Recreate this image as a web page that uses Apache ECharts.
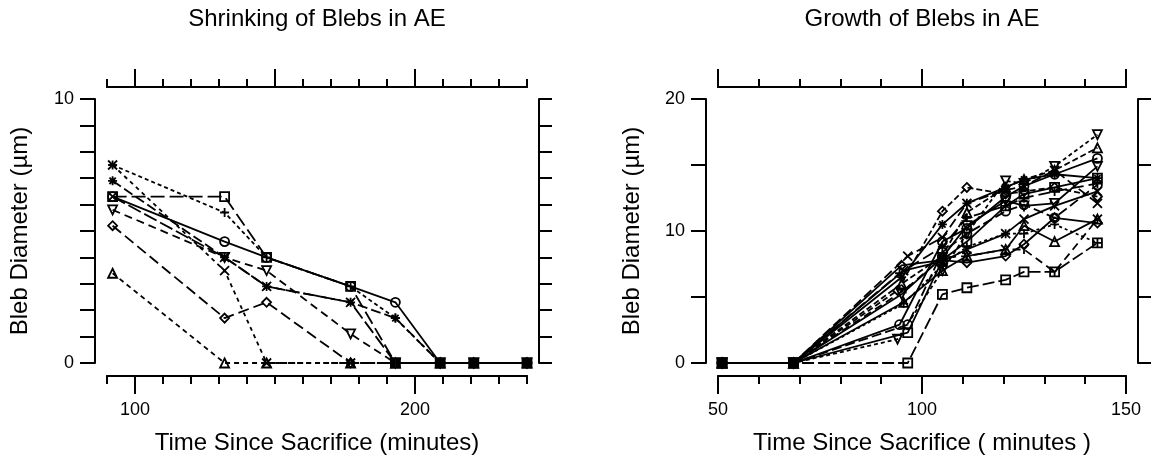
<!DOCTYPE html>
<html><head><meta charset="utf-8">
<script src="https://cdn.jsdelivr.net/npm/echarts@6.0.0/dist/echarts.min.js"></script>
<style>html,body{margin:0;padding:0;background:#fff}#c{width:1152px;height:459px}</style>
</head><body><div id="c"></div>
<script>
// ---------- DATA ----------
const shrinkTimes = [92, 132, 147, 177, 193, 209, 221, 240];
const shrinkCircle   = [6.3, 4.6, 4.0, 2.9, 2.3, 0, 0, 0];
const shrinkTriangle = [3.4, 0, 0, 0, 0, 0, 0, 0];
const shrinkPlus     = [7.5, 5.7, 4.0, 2.9, 1.7, 0, 0, 0];
const shrinkCross    = [7.5, 3.5, 0, 0, 0, 0, 0, 0];
const shrinkDiamond  = [5.2, 1.7, 2.3, 0, 0, 0, 0, 0];
const shrinkDownTri  = [5.8, 4.0, 3.5, 1.1, 0, 0, 0, 0];
const shrinkSquare   = [6.3, 6.3, 4.0, 2.9, 0, 0, 0, 0];
const shrinkStar     = [6.9, 4.0, 2.9, 2.3, 1.7, 0, 0, 0];
const shrinkCross2   = [6.3, 4.0, 2.9, 2.3, 0, 0, 0, 0];

const growthTimes = [51, 68.5, 95, 105, 111, 120.5, 125, 132.5, 143];
// third observation time differs slightly per bleb
const growthThirdTime = [94.5, 95, 95.5, 96.5, 94, 94, 96.5, 95, 96.5, 95.5, 95, 96.5, 95, 95.5, 94.5, 96];
const growthCircle   = [0, 0, 2.9, 9.2, 10.2, 12.6, 13.4, 14.3, 15.5];
const growthTriangle = [0, 0, 6.0, 8.1, 11.4, 13.3, 13.9, 14.6, 16.3];
const growthPlus     = [0, 0, 4.5, 7.4, 8.8, 9.8, 9.8, 10.5, 9.1];
const growthCross    = [0, 0, 8.1, 9.5, 12.1, 13.1, 13.4, 14.6, 12.1];
const growthDiamond  = [0, 0, 5.5, 11.5, 13.3, 12.8, 13.0, 13.3, 12.6];
const growthDownTri  = [0, 0, 1.8, 7.0, 9.8, 13.8, 13.6, 14.9, 17.3];
const growthSquare   = [0, 0, 0, 5.2, 5.7, 6.3, 6.9, 6.9, 9.1];
const growthStar     = [0, 0, 6.5, 10.5, 12.1, 13.3, 13.9, 14.3, 14.0];
const growthCircle2  = [0, 0, 2.9, 8.4, 9.8, 11.5, 12.0, 11.0, 13.5];
const growthTriangle2= [0, 0, 4.6, 7.0, 8.1, 8.6, 10.4, 9.2, 10.9];
const growthDiamond2 = [0, 0, 7.4, 7.8, 7.6, 8.1, 9.0, 11.0, 10.6];
const growthSquare2  = [0, 0, 2.3, 7.8, 9.2, 11.9, 12.8, 13.3, 14.0];
const growthDownTri2 = [0, 0, 5.2, 8.0, 10.4, 12.3, 11.9, 12.1, 14.9];
const growthCross2   = [0, 0, 7.0, 7.7, 8.6, 9.8, 10.9, 11.9, 13.0];
const growthPlus2    = [0, 0, 6.8, 8.8, 11.0, 11.9, 12.5, 13.0, 13.6];
const growthY        = [0, 0, 5.6, 8.0, 8.1, 8.6, 8.6, 6.9, 10.9];

const shrinkXTicks = [90,100,110,120,130,140,150,160,170,180,190,200,210,220,230,240];
const shrinkXLabels = [100, 200];
const shrinkXTopMajor = [100, 150, 200];
const shrinkYTicks = [0,1,2,3,4,5,6,7,8,9,10];
const shrinkYLabels = [0, 10];
const growthXTicks = [50,60,70,80,90,100,110,120,130,140,150];
const growthXLabels = [50, 100, 150];
const growthYTicks = [0, 5, 10, 15, 20];
const growthYLabels = [0, 10, 20];

// ---------- STYLE ----------
const FONT = '"Liberation Sans", Arial, Helvetica, sans-serif';
const TICK_FS = 18, TITLE_FS = 24;
const SYM = {
  circle: 'circle', triangle: 'triangle', diamond: 'diamond', square: 'rect',
  plus: 'path://M5,0L5,10M0,5L10,5',
  cross: 'path://M0,0L10,10M0,10L10,0',
  star: 'path://M5,0L5,10M0,5L10,5M1.5,1.5L8.5,8.5M1.5,8.5L8.5,1.5',
  downTri: 'path://M0,0L10,0L5,9Z',
  y: 'path://M0,0L5,5L10,0M5,5L5,10'
};
const axisLineStyle = { color: '#000', width: 2 };

function xAxisSet(grid, min, max, ticks, labels, topMajor) {
  const base = { type: 'value', gridIndex: grid, min: min, max: max, splitLine: { show: false },
    axisLine: { show: true, onZero: false, lineStyle: axisLineStyle } };
  return [
    Object.assign({}, base, { position: 'bottom', offset: 13,
      axisTick: { show: true, customValues: ticks, length: 8, lineStyle: axisLineStyle },
      axisLabel: { show: false } }),
    Object.assign({}, base, { position: 'bottom', offset: 13,
      axisTick: { show: true, customValues: labels, length: 18, lineStyle: axisLineStyle },
      axisLabel: { show: true, customValues: labels, margin: 25, color: '#000', fontSize: TICK_FS, fontFamily: FONT } }),
    Object.assign({}, base, { position: 'top', offset: 12,
      axisTick: { show: true, customValues: ticks, length: 8, lineStyle: axisLineStyle },
      axisLabel: { show: false } }),
    Object.assign({}, base, { position: 'top', offset: 12,
      axisTick: { show: true, customValues: topMajor, length: 18, lineStyle: axisLineStyle },
      axisLabel: { show: false } })
  ];
}
function yAxisSet(grid, min, max, ticks, labels) {
  const base = { type: 'value', gridIndex: grid, min: min, max: max, splitLine: { show: false },
    axisLine: { show: true, onZero: false, lineStyle: axisLineStyle } };
  return [
    Object.assign({}, base, { position: 'left', offset: 12,
      axisTick: { show: true, customValues: ticks, length: 15, lineStyle: axisLineStyle },
      axisLabel: { show: true, customValues: labels, margin: 21, color: '#000', fontSize: TICK_FS, fontFamily: FONT } }),
    Object.assign({}, base, { position: 'right', offset: 12,
      axisTick: { show: true, customValues: ticks, length: 13, lineStyle: axisLineStyle },
      axisLabel: { show: false } })
  ];
}

function mk(xIdx, yIdx, times, vals, sym, dash) {
  return {
    type: 'line', xAxisIndex: xIdx, yAxisIndex: yIdx,
    data: vals.map((v, i) => [times[i], v]),
    symbol: SYM[sym], symbolSize: 9,
    itemStyle: { color: 'rgba(0,0,0,0)', borderColor: '#000', borderWidth: 1.8 },
    lineStyle: { color: '#000', width: 1.8, type: dash },
    emphasis: { disabled: true }, silent: true, animation: false
  };
}
function gt(k) { const t = growthTimes.slice(); t[2] = growthThirdTime[k]; return t; }

const series = [
  mk(0, 0, shrinkTimes, shrinkTriangle, 'triangle', [5, 4]),
  mk(0, 0, shrinkTimes, shrinkDiamond, 'diamond', [11, 5]),
  mk(0, 0, shrinkTimes, shrinkDownTri, 'downTri', [8, 5]),
  mk(0, 0, shrinkTimes, shrinkSquare, 'square', [14, 5]),
  mk(0, 0, shrinkTimes, shrinkPlus, 'plus', [4, 3]),
  mk(0, 0, shrinkTimes, shrinkCross, 'cross', [4, 4]),
  mk(0, 0, shrinkTimes, shrinkStar, 'star', [10, 4]),
  mk(0, 0, shrinkTimes, shrinkCross2, 'cross', [14, 4]),
  mk(0, 0, shrinkTimes, shrinkCircle, 'circle', 'solid'),

  mk(4, 2, gt(0), growthCircle, 'circle', 'solid'),
  mk(4, 2, gt(1), growthTriangle, 'triangle', [6, 3]),
  mk(4, 2, gt(2), growthPlus, 'plus', [3, 3]),
  mk(4, 2, gt(3), growthCross, 'cross', [10, 4]),
  mk(4, 2, gt(4), growthDiamond, 'diamond', [6, 3]),
  mk(4, 2, gt(5), growthDownTri, 'downTri', [4, 3]),
  mk(4, 2, gt(6), growthSquare, 'square', [12, 4]),
  mk(4, 2, gt(7), growthStar, 'star', 'solid'),
  mk(4, 2, gt(8), growthCircle2, 'circle', [10, 4]),
  mk(4, 2, gt(9), growthTriangle2, 'triangle', 'solid'),
  mk(4, 2, gt(10), growthDiamond2, 'diamond', 'solid'),
  mk(4, 2, gt(11), growthSquare2, 'square', 'solid'),
  mk(4, 2, gt(12), growthDownTri2, 'downTri', 'solid'),
  mk(4, 2, gt(13), growthCross2, 'cross', 'solid'),
  mk(4, 2, gt(14), growthPlus2, 'plus', [12, 5]),
  mk(4, 2, gt(15), growthY, 'y', [8, 5])
];

function txt(x, y, s, size, rot) {
  return { type: 'text', x: x, y: y, rotation: rot || 0, silent: true,
    style: { text: s, fill: '#000', font: size + 'px ' + FONT, align: 'center', verticalAlign: 'middle',
             textAlign: 'center', textVerticalAlign: 'middle' } };
}

const chart = echarts.init(document.getElementById('c'), null, { renderer: 'canvas' });
chart.setOption({
  animation: false,
  backgroundColor: '#fff',
  grid: [
    { left: 107, top: 99, width: 420, height: 264 },
    { left: 718, top: 99, width: 408, height: 264 }
  ],
  xAxis: xAxisSet(0, 90, 240, shrinkXTicks, shrinkXLabels, shrinkXTopMajor)
    .concat(xAxisSet(1, 50, 150, growthXTicks, growthXLabels, growthXLabels)),
  yAxis: yAxisSet(0, 0, 10, shrinkYTicks, shrinkYLabels)
    .concat(yAxisSet(1, 0, 20, growthYTicks, growthYLabels)),
  series: series,
  graphic: [
    txt(317, 19, 'Shrinking of Blebs in AE', TITLE_FS),
    txt(922, 19, 'Growth of Blebs in AE', TITLE_FS),
    txt(20, 231, 'Bleb Diameter (µm)', TITLE_FS, Math.PI / 2),
    txt(632, 231, 'Bleb Diameter (µm)', TITLE_FS, Math.PI / 2),
    txt(317, 443, 'Time Since Sacrifice (minutes)', TITLE_FS),
    txt(922, 443, 'Time Since Sacrifice ( minutes )', TITLE_FS)
  ]
});
</script></body></html>
